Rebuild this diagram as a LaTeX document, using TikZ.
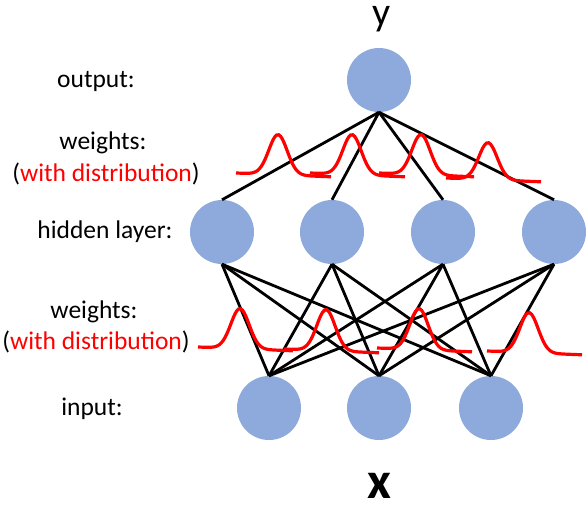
\documentclass[tikz,border=0pt]{standalone}
\usepackage{fontspec}
\setmainfont{Carlito}
\definecolor{neuronblue}{RGB}{142,169,219}

\begin{document}
\begin{tikzpicture}[x=1pt,y=-1pt]
	\tikzstyle{neuron}=[circle, fill=neuronblue, minimum size=64pt, inner sep=0pt]
	\tikzstyle{layertext}=[font=\fontsize{25.5}{30}\selectfont, anchor=base, inner sep=0pt]
	\tikzstyle{weight}=[black, line width=2.8pt]
	\tikzstyle{dist}=[red, line width=3.2pt]
	\useasboundingbox (0,0) rectangle (588,508);
	% layer captions
	\node[layertext] (lout) at (96,88) {output:};
	\node[layertext] (lw2) at (103,149) {weights:};
	\node[layertext] (ld2) at (106,181) {(\textcolor{red}{with distribution})};
	\node[layertext] (lhid) at (105,238) {hidden layer:};
	\node[layertext] (lw1) at (94,318) {weights:};
	\node[layertext] (ld1) at (96,349) {(\textcolor{red}{with distribution})};
	\node[layertext] (lin) at (92,415) {input:};
	\node[font=\fontsize{40}{40}\selectfont, anchor=base, inner sep=0pt] (ylab) at (382,26) {y};
	\node[font=\fontsize{52}{52}\selectfont\bfseries, anchor=base, inner sep=0pt] (xlab) at (379,498) {x};
	% neurons
	\node[neuron] (y1) at (379,80) {};
	\foreach \i/\p in {1/222,2/332,3/443,4/554}
		\node[neuron] (h\i) at (\p,232) {};
	\foreach \i/\p in {1/269,2/379,3/491}
		\node[neuron] (x\i) at (\p,408) {};
	% weights
	\foreach \i in {1,...,4}
		\draw[weight] (y1.south) -- (h\i.north);
	\foreach \i in {1,...,4}
		\foreach \j in {1,2,3}
			\draw[weight] (h\i.south) -- (x\j.north);
	% distributions on the weights
	\foreach \c/\b/\h in {278/173/40, 352/173/40, 421/173/40, 488/178/37,
		240/347/40, 326/349/41, 419/348/41, 529/351/40}
		\draw[dist] plot[domain=-42:53, samples=50, smooth]
			({\c+\x}, {\b+0.04*(\x+42)-\h*exp(0-(\x/13)*(\x/13))});
\end{tikzpicture}
\end{document}
